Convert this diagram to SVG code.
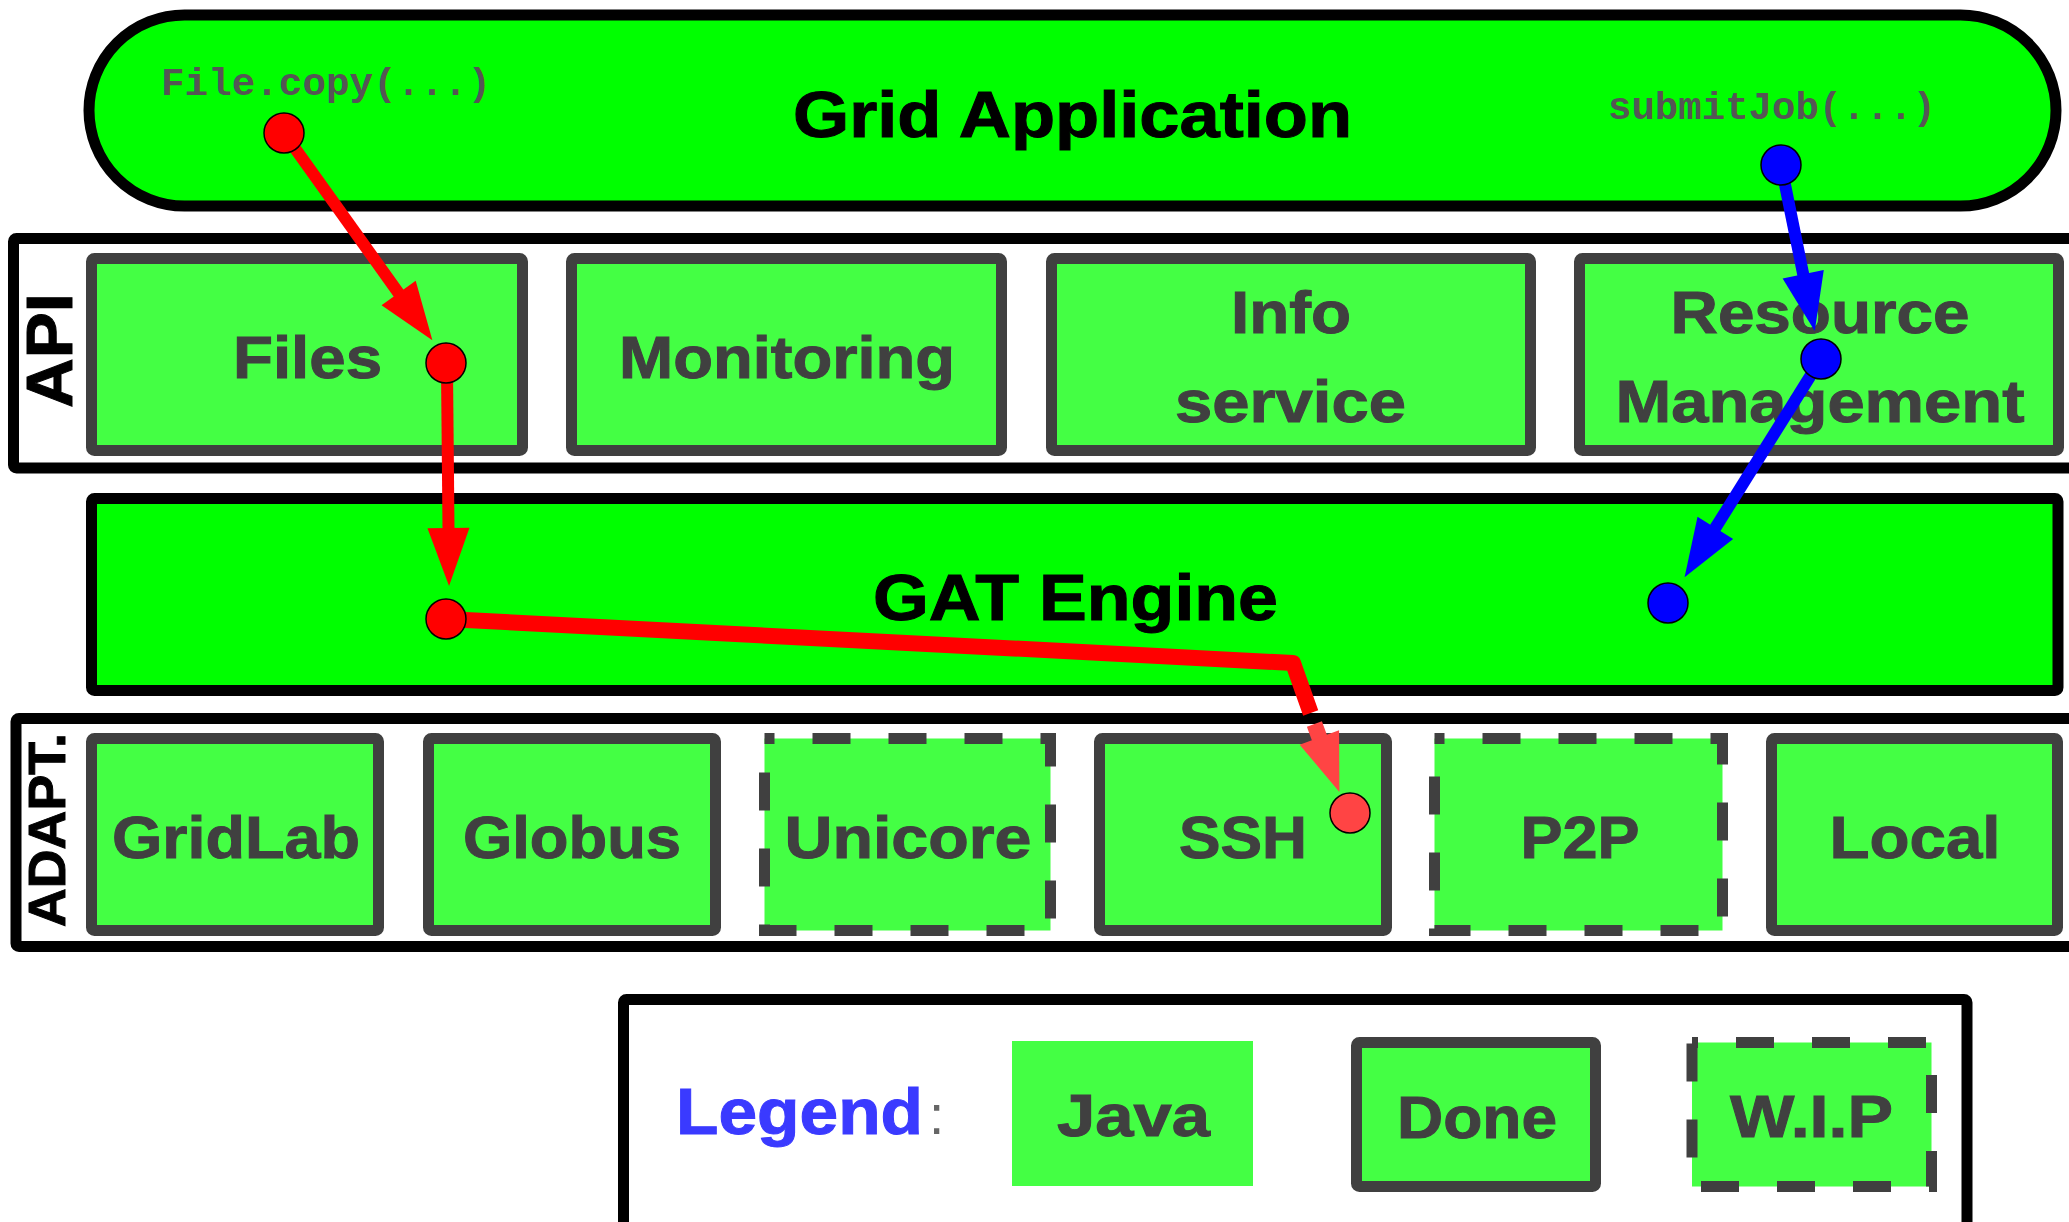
<svg xmlns="http://www.w3.org/2000/svg" width="2069" height="1222" viewBox="0 0 2069 1222">
<style>
.bg{fill:#ffffff}
.frame{fill:#ffffff;stroke:#000000;stroke-width:11}
.layer{fill:#00ff00;stroke:#000000;stroke-width:11}
.box{fill:#44ff44;stroke:#404040;stroke-width:11}
.wip{fill:#44ff44;stroke:#404040;stroke-width:11;stroke-dasharray:38 38;stroke-dashoffset:28}
.java{fill:#44ff44}
.t{font-family:"Liberation Sans",Arial,sans-serif;font-weight:bold;text-anchor:middle}
.tb{fill:#000000;stroke:#000000;stroke-width:1;font-size:65px}
.tg{fill:#404040;stroke:#404040;stroke-width:1;font-size:60px}
.code{font-family:"Liberation Mono","Courier New",monospace;font-weight:bold;font-size:39px;fill:#555555}
.red{fill:none;stroke:#ff0000;stroke-width:12;stroke-linejoin:round}
.redw{fill:none;stroke:#ff0000;stroke-width:16;stroke-linejoin:round}
.red2{fill:none;stroke:#ff4444;stroke-width:16}
.blue{fill:none;stroke:#0000ff;stroke-width:12}
.dr{fill:#ff0000;stroke:#000000;stroke-width:1.5}
.dr2{fill:#ff4444;stroke:#000000;stroke-width:1.5}
.db{fill:#0000ff;stroke:#000000;stroke-width:1.5}
</style>
<defs>
<marker id="ahR" markerUnits="userSpaceOnUse" markerWidth="60" markerHeight="42" viewBox="0 0 60 42" refX="1" refY="21" orient="auto" overflow="visible"><path d="M0,0 L58,21 L0,42 Z" fill="#ff0000"/></marker>
<marker id="ahR2" markerUnits="userSpaceOnUse" markerWidth="60" markerHeight="42" viewBox="0 0 60 42" refX="1" refY="21" orient="auto" overflow="visible"><path d="M0,0 L58,21 L0,42 Z" fill="#ff4444"/></marker>
<marker id="ahB" markerUnits="userSpaceOnUse" markerWidth="60" markerHeight="42" viewBox="0 0 60 42" refX="1" refY="21" orient="auto" overflow="visible"><path d="M0,0 L58,21 L0,42 Z" fill="#0000ff"/></marker>
</defs>
<rect class="bg" x="0" y="0" width="2069" height="1222"/>

<g id="grid-application">
<rect class="layer" x="89" y="15" width="1967" height="191" rx="95.5" ry="95.5"/>
<text class="t tb" x="1072.5" y="137" textLength="559" lengthAdjust="spacingAndGlyphs">Grid Application</text>
<text class="code" x="161" y="95" textLength="330" lengthAdjust="spacingAndGlyphs">File.copy(...)</text>
<text class="code" x="1608" y="119" textLength="328" lengthAdjust="spacingAndGlyphs">submitJob(...)</text>
</g>

<g id="api">
<rect class="frame" x="13.5" y="238.5" width="2080" height="229.5" rx="3"/>
<text class="t tb" transform="translate(72,350.5) rotate(-90)" x="0" y="0" textLength="115" lengthAdjust="spacingAndGlyphs">API</text>
</g>
<g id="files">
<rect class="box" x="91.5" y="258.5" width="431" height="192" rx="3"/>
<text class="t tg" x="307.5" y="378" textLength="149" lengthAdjust="spacingAndGlyphs">Files</text>
</g>
<g id="monitoring">
<rect class="box" x="571.5" y="258.5" width="430" height="192" rx="3"/>
<text class="t tg" x="787" y="378" textLength="336" lengthAdjust="spacingAndGlyphs">Monitoring</text>
</g>
<g id="info-service">
<rect class="box" x="1051.5" y="258.5" width="479" height="192" rx="3"/>
<text class="t tg" x="1291" y="333" textLength="120" lengthAdjust="spacingAndGlyphs">Info</text>
<text class="t tg" x="1290.5" y="422" textLength="231" lengthAdjust="spacingAndGlyphs">service</text>
</g>
<g id="resource-management">
<rect class="box" x="1579.5" y="258.5" width="479" height="192" rx="3"/>
<text class="t tg" x="1820" y="333" textLength="299" lengthAdjust="spacingAndGlyphs">Resource</text>
<text class="t tg" x="1820" y="422" textLength="409" lengthAdjust="spacingAndGlyphs">Management</text>
</g>

<g id="gat-engine">
<rect class="layer" x="91.5" y="498.5" width="1966.5" height="192" rx="3"/>
<text class="t tb" x="1075.5" y="620" textLength="405" lengthAdjust="spacingAndGlyphs">GAT Engine</text>
</g>

<g id="adaptors">
<rect class="frame" x="16" y="718.5" width="2080" height="228" rx="3"/>
<text class="t tb" style="font-size:52px" transform="translate(65,830) rotate(-90)" x="0" y="0" textLength="194" lengthAdjust="spacingAndGlyphs">ADAPT.</text>
</g>
<g id="gridlab">
<rect class="box" x="91.5" y="738.5" width="287" height="192" rx="3"/>
<text class="t tg" x="236" y="858" textLength="248" lengthAdjust="spacingAndGlyphs">GridLab</text>
</g>
<g id="globus">
<rect class="box" x="428.5" y="738.5" width="287" height="192" rx="3"/>
<text class="t tg" x="572" y="858" textLength="218" lengthAdjust="spacingAndGlyphs">Globus</text>
</g>
<g id="unicore">
<rect class="wip" x="764.5" y="738.5" width="286" height="192"/>
<text class="t tg" x="908" y="858" textLength="247" lengthAdjust="spacingAndGlyphs">Unicore</text>
</g>
<g id="ssh">
<rect class="box" x="1099.5" y="738.5" width="287" height="192" rx="3"/>
<text class="t tg" x="1243" y="858" textLength="128" lengthAdjust="spacingAndGlyphs">SSH</text>
</g>
<g id="p2p">
<rect class="wip" x="1434.5" y="738.5" width="288" height="192"/>
<text class="t tg" x="1580" y="858" textLength="119" lengthAdjust="spacingAndGlyphs">P2P</text>
</g>
<g id="local">
<rect class="box" x="1771.5" y="738.5" width="286" height="192" rx="3"/>
<text class="t tg" x="1915" y="858" textLength="171" lengthAdjust="spacingAndGlyphs">Local</text>
</g>

<g id="legend">
<rect class="frame" x="623.5" y="999.5" width="1343.5" height="240" rx="3"/>
<text class="t" style="font-size:65px;fill:#3a3aff;stroke:#3a3aff;stroke-width:1" x="799.5" y="1134" textLength="247" lengthAdjust="spacingAndGlyphs">Legend</text>
<text style="font-family:'Liberation Sans',Arial,sans-serif;font-size:55px;fill:#666666" x="929" y="1134">:</text>
</g>
<g id="legend-java">
<rect class="java" x="1012" y="1041" width="241" height="145"/>
<text class="t tg" style="font-size:59px" x="1133.5" y="1136" textLength="153" lengthAdjust="spacingAndGlyphs">Java</text>
</g>
<g id="legend-done">
<rect class="box" x="1356.5" y="1042.5" width="239" height="144" rx="3"/>
<text class="t tg" style="font-size:59px" x="1477" y="1138" textLength="160" lengthAdjust="spacingAndGlyphs">Done</text>
</g>
<g id="legend-wip">
<rect class="wip" x="1692" y="1042.5" width="239.5" height="144" style="stroke-dashoffset:32"/>
<text class="t tg" style="font-size:59px" x="1811.5" y="1137" textLength="163" lengthAdjust="spacingAndGlyphs">W.I.P</text>
</g>

<g id="connectors">
<line class="red" x1="284" y1="133" x2="399.2" y2="293.9" marker-end="url(#ahR)"/>
<line class="red" x1="447" y1="370" x2="448.5" y2="529" marker-end="url(#ahR)"/>
<polyline class="redw" points="446,619 1293,663 1310.7,713"/>
<line class="red2" x1="1314.4" y1="724" x2="1319.7" y2="738.4" marker-end="url(#ahR2)"/>
<line class="blue" x1="1781" y1="165" x2="1803.4" y2="275.2" marker-end="url(#ahB)"/>
<line class="blue" x1="1821" y1="359" x2="1714.8" y2="528.8" marker-end="url(#ahB)"/>
<circle class="dr" cx="284" cy="133" r="20"/>
<circle class="dr" cx="446" cy="363" r="20"/>
<circle class="dr" cx="446" cy="619" r="20"/>
<circle class="dr2" cx="1350" cy="813" r="20"/>
<circle class="db" cx="1781" cy="165" r="20"/>
<circle class="db" cx="1821" cy="359" r="20"/>
<circle class="db" cx="1668" cy="603" r="20"/>
</g>
</svg>
